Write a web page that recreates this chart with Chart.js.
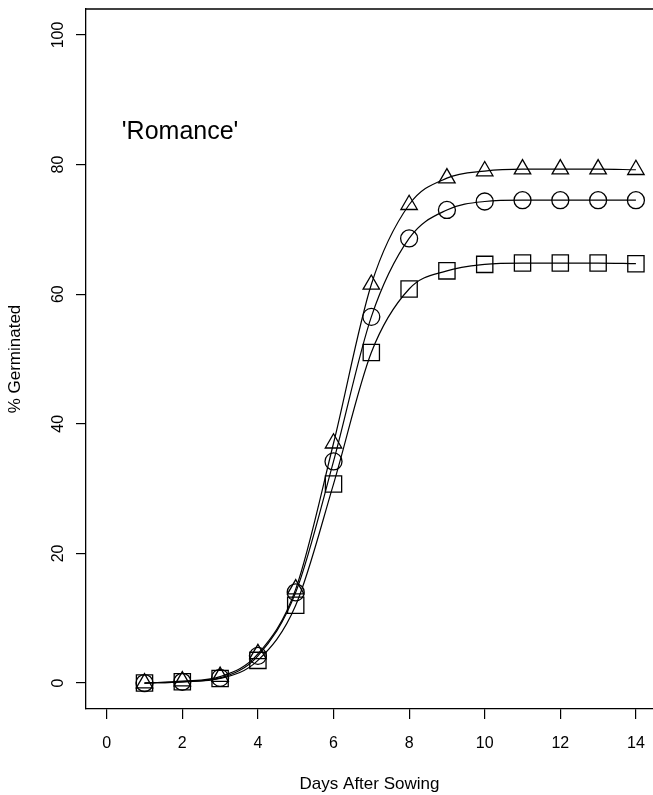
<!DOCTYPE html>
<html>
<head>
<meta charset="utf-8">
<script src="https://cdn.jsdelivr.net/npm/chart.js@4/dist/chart.umd.min.js"></script>
<style>
  html, body { margin: 0; padding: 0; background: #fff; }
  #wrap { width: 653px; height: 795px; }
</style>
</head>
<body>
<div id="wrap"><canvas id="germ" width="653" height="795"></canvas></div>
<script>
// values
const days = [1, 2, 3, 4, 5, 6, 7, 8, 9, 10, 11, 12, 13, 14];
const triangleSeries = [0, 0.3, 1.0, 4.5, 14.5, 37.0, 61.5, 73.8, 77.9, 79.0, 79.3, 79.3, 79.3, 79.2];
const circleSeries   = [0, 0.2, 0.8, 4.2, 14.0, 34.2, 56.5, 68.6, 73.0, 74.3, 74.5, 74.5, 74.5, 74.5];
const squareSeries   = [0, 0.2, 0.7, 3.5, 12.0, 30.7, 51.0, 60.8, 63.6, 64.6, 64.8, 64.8, 64.8, 64.7];
const xTicks = [0, 2, 4, 6, 8, 10, 12, 14];
const yTicks = [0, 20, 40, 60, 80, 100];
const cultivar = "'Romance'";

const FONT = '"Liberation Sans", Arial, Helvetica, sans-serif';

const toPoints = (vals) => days.map((d, i) => ({ x: d, y: vals[i] }));

const makeSet = (label, vals, style, radius) => ({
    label,
    data: toPoints(vals),
    showLine: true,
    borderColor: '#000',
    borderWidth: 1.2,
    cubicInterpolationMode: 'monotone',
    pointStyle: style,
    pointRadius: radius,
    pointBorderColor: '#000',
    pointBorderWidth: 1.3,
    pointBackgroundColor: 'rgba(0,0,0,0)',
    clip: false
});

// top frame line + cultivar name
const frameAndLabel = {
    id: 'frameAndLabel',
    afterDraw(chart) {
        const { ctx, chartArea, scales } = chart;
        ctx.save();
        ctx.strokeStyle = '#000';
        ctx.lineWidth = 1.3;
        ctx.beginPath();
        ctx.moveTo(chartArea.left, chartArea.top);
        ctx.lineTo(chartArea.right, chartArea.top);
        ctx.stroke();
        ctx.fillStyle = '#000';
        ctx.font = '25px ' + FONT;
        ctx.textBaseline = 'alphabetic';
        ctx.fillText(cultivar, scales.x.getPixelForValue(0.4), scales.y.getPixelForValue(84.0));
        ctx.restore();
    }
};

const tickGrid = {
    display: true,
    drawOnChartArea: false,
    drawTicks: true,
    tickLength: 10,
    color: '#000',
    tickColor: '#000',
    lineWidth: 1.2
};

new Chart(document.getElementById('germ'), {
    type: 'scatter',
    data: {
        datasets: [
            makeSet('Triangle', triangleSeries, 'triangle', 9.5),
            makeSet('Circle', circleSeries, 'circle', 8.5),
            makeSet('Square', squareSeries, 'rect', 11.5)
        ]
    },
    options: {
        responsive: false,
        animation: false,
        events: [],
        layout: { autoPadding: false, padding: { left: 0, top: 9, right: 0, bottom: 0 } },
        plugins: {
            legend: { display: false },
            tooltip: { enabled: false }
        },
        scales: {
            x: {
                type: 'linear',
                min: -0.548,
                max: 14.452,
                afterBuildTicks: (s) => { s.ticks = xTicks.map(v => ({ value: v })); },
                afterFit: (s) => { s.height = 86; s.paddingLeft = 0; s.paddingRight = 0; },
                border: { display: true, color: '#000', width: 1.3 },
                grid: tickGrid,
                ticks: { padding: 15, maxRotation: 0, color: '#000', font: { family: FONT, size: 16 } },
                title: {
                    display: true, text: 'Days After Sowing', color: '#000',
                    font: { family: FONT, size: 17 }, padding: { top: 0, bottom: 0 }
                }
            },
            y: {
                type: 'linear',
                min: -4.0,
                max: 104.0,
                afterBuildTicks: (s) => { s.ticks = yTicks.map(v => ({ value: v })); },
                afterFit: (s) => { s.width = 86; s.paddingTop = 0; s.paddingBottom = 0; },
                border: { display: true, color: '#000', width: 1.3 },
                grid: tickGrid,
                ticks: {
                    minRotation: 90, maxRotation: 90, crossAlign: 'center', padding: 4,
                    color: '#000', font: { family: FONT, size: 16 }
                },
                title: {
                    display: true, text: '% Germinated', color: '#000',
                    font: { family: FONT, size: 17 }, padding: { top: 5, bottom: 0 }
                }
            }
        }
    },
    plugins: [frameAndLabel]
});
</script>
</body>
</html>
